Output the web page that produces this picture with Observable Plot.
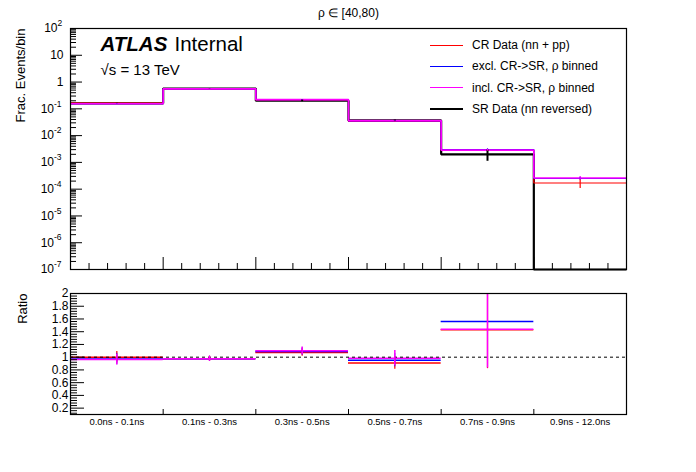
<!DOCTYPE html>
<html>
<head>
<meta charset="utf-8">
<script src="https://cdn.jsdelivr.net/npm/d3@7"></script>
<script src="https://cdn.jsdelivr.net/npm/@observablehq/plot@0.6"></script>
<style>
  body { margin: 0; background: #fff; }
  #chart { position: relative; width: 696px; height: 472px; background: #fff; overflow: hidden;
           font-family: "Liberation Sans", Arial, Helvetica, sans-serif; }
  #chart svg { position: absolute; left: 0; }
  .leg { position: absolute; left: 430px; height: 14px; line-height: 14px; font-size: 12px; white-space: nowrap; }
  .leg .sw { position: absolute; left: 0; width: 33px; top: 7px; }
  .leg .tx { position: absolute; left: 42px; top: 0; }
</style>
</head>
<body>
<div id="chart"></div>
<script>
// ---------- data ----------
const binLabels = ["0.0ns - 0.1ns", "0.1ns - 0.3ns", "0.3ns - 0.5ns", "0.5ns - 0.7ns", "0.7ns - 0.9ns", "0.9ns - 12.0ns"];

// top panel: fraction of events per bin
const srData    = [0.160, 0.57, 0.200, 0.037, 0.0020, 0];
const srErr     = [0.002, 0.005, 0.015, 0.002, 0.0009, 0];
const crData    = [0.162, 0.556, 0.215, 0.0337, 0.00286, 0.00017];
const crErr     = [0.002, 0.004, 0.003, 0.0008, 0.0002, 0.000065];
const exclPred  = [0.155, 0.556, 0.218, 0.0353, 0.00300, 0.00025];
const exclErr   = [0.002, 0.004, 0.003, 0.0008, 0.0002, 0.00003];
const inclPred  = [0.154, 0.556, 0.220, 0.0364, 0.00288, 0.00026];
const inclErr   = [0.002, 0.004, 0.003, 0.0008, 0.0002, 0.00004];

// ratio panel
const crRatio      = [1.0, 0.975, 1.075, 0.91, 1.43, null];
const crRatioErr   = [0.09, 0.04, 0.06, 0.10, 0.61, null];
const exclRatio    = [0.972, 0.975, 1.09, 0.953, 1.56, null];
const exclRatioErr = [0.09, 0.04, 0.06, 0.105, 0.66, null];
const inclRatio    = [0.962, 0.975, 1.10, 0.985, 1.44, null];
const inclRatioErr = [0.085, 0.04, 0.06, 0.12, 0.61, null];

// axis tick values
const topYTicks   = [1e-7, 1e-6, 1e-5, 1e-4, 1e-3, 1e-2, 1e-1, 1, 10, 100];
const ratioYTicks = [0.2, 0.4, 0.6, 0.8, 1, 1.2, 1.4, 1.6, 1.8, 2];

const legendItems = [
  {label: "CR Data (nn + pp)", color: "#ff0000", width: 1},
  {label: "excl. CR->SR, \u03c1 binned", color: "#0000ff", width: 1},
  {label: "incl. CR->SR, \u03c1 binned", color: "#ff00ff", width: 1},
  {label: "SR Data (nn reversed)", color: "#000000", width: 2.5}
];

// ---------- helpers ----------
const FONT = '"Liberation Sans", Arial, Helvetica, sans-serif';
const W = 696;
const nBins = binLabels.length;
const yTop = [1e-7, 1e2];
const expOf = v => Math.round(Math.log10(v));
function steps(vals) {
  return vals.flatMap((v, i) => [{x: i, y: Math.max(v, yTop[0])}, {x: i + 1, y: Math.max(v, yTop[0])}]);
}
function errs(vals, e) {
  return vals.map((v, i) => ({x: i + 0.5, lo: v - e[i], hi: v + e[i], v, e: e[i]}))
             .filter(d => d.v > 0 && d.e > 0);
}
function ratioRows(vals, e) {
  return vals.map((v, i) => ({x0: i, x1: i + 1, xc: i + 0.5, r: v, lo: v - e[i], hi: v + e[i]}))
             .filter(d => d.r != null);
}

// ---------- top panel ----------
const topH = 281, topMT = 28, topMB = 12, ML = 70, MR = 70;
const frameW = W - ML - MR, frameH = topH - topMT - topMB;

const minorX = d3.range(0, nBins * 5 + 1).map(k => k / 5).filter(v => v > 0 && v < nBins && Math.abs(v - Math.round(v)) > 1e-6);
const majorX = d3.range(1, nBins);
const minorY = [];
for (let e = -7; e < 2; e++) for (let k = 2; k <= 9; k++) minorY.push(k * Math.pow(10, e));
const majorY = topYTicks.slice(1, -1);

const plainTicks = topYTicks.filter(v => expOf(v) === 0 || expOf(v) === 1);
const posExpTicks = topYTicks.filter(v => expOf(v) > 1);
const negExpTicks = topYTicks.filter(v => expOf(v) < 0);

const series = [
  {vals: srData, err: srErr, color: "#000", w: 2.2},
  {vals: crData, err: crErr, color: "#ff0000", w: 1.2},
  {vals: exclPred, err: exclErr, color: "#0000ff", w: 1.2},
  {vals: inclPred, err: inclErr, color: "#ff00ff", w: 1.6}
];

const labelFont = 12;
const expFont = 8.5;
const topPlot = Plot.plot({
  width: W, height: topH,
  marginLeft: ML, marginRight: MR, marginTop: topMT, marginBottom: topMB,
  style: {fontFamily: FONT, fontSize: "12px", background: "transparent", color: "#000", overflow: "visible"},
  x: {domain: [0, nBins], axis: null},
  y: {type: "log", domain: yTop, axis: null},
  marks: [
    ...series.map(s => Plot.line(steps(s.vals), {x: "x", y: "y", stroke: s.color, strokeWidth: s.w, strokeLinejoin: "miter", strokeLinecap: "butt"})),
    ...series.map(s => Plot.ruleX(errs(s.vals, s.err), {x: "x", y1: "lo", y2: "hi", stroke: s.color, strokeWidth: s.color === "#000" ? 2 : 1.2})),
    Plot.tickX(minorX, {x: d => d, insetTop: frameH - 6, stroke: "#000"}),
    Plot.tickX(majorX, {x: d => d, insetTop: frameH - 12, stroke: "#000"}),
    Plot.tickY(minorY, {y: d => d, insetRight: frameW - 6, stroke: "#000"}),
    Plot.tickY(majorY, {y: d => d, insetRight: frameW - 12, stroke: "#000"}),
    // y tick labels (ROOT-style 10^n)
    Plot.text(plainTicks, {y: d => d, text: d => String(d), frameAnchor: "left", dx: -7, textAnchor: "end", lineAnchor: "middle", fontSize: labelFont}),
    Plot.text(posExpTicks, {y: d => d, text: () => "10", frameAnchor: "left", dx: -13, textAnchor: "end", lineAnchor: "middle", fontSize: labelFont}),
    Plot.text(posExpTicks, {y: d => d, text: d => String(expOf(d)), frameAnchor: "left", dx: -13, dy: -5, textAnchor: "start", lineAnchor: "middle", fontSize: expFont}),
    Plot.text(negExpTicks, {y: d => d, text: () => "10", frameAnchor: "left", dx: -16.5, textAnchor: "end", lineAnchor: "middle", fontSize: labelFont}),
    Plot.text(negExpTicks, {y: d => d, text: d => String(expOf(d)), frameAnchor: "left", dx: -16.5, dy: -5, textAnchor: "start", lineAnchor: "middle", fontSize: expFont}),
    Plot.frame({stroke: "#000", strokeWidth: 1.2}),
    Plot.text(["\u03c1 \u2208 [40,80)"], {frameAnchor: "top", dy: -15, lineAnchor: "middle", fontSize: 12}),
    Plot.text(["ATLAS"], {frameAnchor: "top-left", dx: 30, dy: 22, textAnchor: "start", lineAnchor: "bottom", fontSize: 20.5, fontWeight: "bold", fontStyle: "italic"}),
    Plot.text(["Internal"], {frameAnchor: "top-left", dx: 104, dy: 22, textAnchor: "start", lineAnchor: "bottom", fontSize: 20.5}),
    Plot.text(["\u221as = 13 TeV"], {frameAnchor: "top-left", dx: 30, dy: 46, textAnchor: "start", lineAnchor: "bottom", fontSize: 15}),
    Plot.text(["Frac. Events/bin"], {frameAnchor: "top-left", dx: -50, dy: 0, rotate: -90, textAnchor: "end", lineAnchor: "middle", fontSize: 13})
  ]
});
topPlot.style.top = "0px";

// ---------- ratio panel ----------
const botTop = 281, botH = 472 - botTop, botMT = 12, botMB = 58;
const botFrameH = botH - botMT - botMB;
const ratioMinor = d3.range(1, 50).map(k => Math.round(k * 4) / 100).filter(v => v > 0.1 && v < 2 && Math.abs(v * 5 - Math.round(v * 5)) > 1e-6);
const ratioMajor = ratioYTicks.filter(v => v < 2);

const rSeries = [
  {vals: crRatio, err: crRatioErr, color: "#ff0000", ew: 1.2},
  {vals: exclRatio, err: exclRatioErr, color: "#0000ff", ew: 0.8},
  {vals: inclRatio, err: inclRatioErr, color: "#ff00ff", ew: 1.5}
];

const botPlot = Plot.plot({
  width: W, height: botH,
  marginLeft: ML, marginRight: MR, marginTop: botMT, marginBottom: botMB,
  style: {fontFamily: FONT, fontSize: "12px", background: "transparent", color: "#000", overflow: "visible"},
  x: {domain: [0, nBins]},
  y: {domain: [0.1, 2.0]},
  marks: [
    ...rSeries.map(s => Plot.ruleY(ratioRows(s.vals, s.err), {y: "r", x1: "x0", x2: "x1", stroke: s.color, strokeWidth: 1.5})),
    Plot.ruleY([1], {stroke: "#000", strokeWidth: 1, strokeDasharray: "3,3"}),
    ...rSeries.map(s => Plot.ruleX(ratioRows(s.vals, s.err), {x: "xc", y1: "lo", y2: "hi", stroke: s.color, strokeWidth: s.ew, clip: true})),
    Plot.tickY(ratioMinor, {y: d => d, insetRight: frameW - 7, stroke: "#000"}),
    Plot.tickY(ratioMajor, {y: d => d, insetRight: frameW - 14, stroke: "#000"}),
    Plot.tickX(majorX, {x: d => d, insetTop: botFrameH - 5, stroke: "#000"}),
    Plot.axisY(ratioYTicks, {tickSize: 0, tickPadding: 2, tickFormat: d => String(d), label: null, fontSize: 12}),
    Plot.axisX(binLabels.map((_, i) => i + 0.5), {tickSize: 0, tickPadding: 4, tickFormat: d => binLabels[Math.floor(d)], label: null, fontSize: 9.5}),
    Plot.frame({stroke: "#000", strokeWidth: 1.2}),
    Plot.text(["Ratio"], {frameAnchor: "top-left", dx: -48, dy: 0, rotate: -90, textAnchor: "end", lineAnchor: "middle", fontSize: 13})
  ]
});
botPlot.style.top = botTop + "px";

const chart = document.getElementById("chart");
chart.appendChild(topPlot);
chart.appendChild(botPlot);

// ---------- legend ----------
const legY = [45, 66, 87.5, 109];
legendItems.forEach((it, i) => {
  const row = document.createElement("div");
  row.className = "leg";
  row.style.top = (legY[i] - 7) + "px";
  const sw = document.createElement("div");
  sw.className = "sw";
  sw.style.borderTop = it.width + "px solid " + it.color;
  sw.style.top = (7 - it.width / 2) + "px";
  const tx = document.createElement("div");
  tx.className = "tx";
  tx.textContent = it.label;
  row.appendChild(sw);
  row.appendChild(tx);
  chart.appendChild(row);
});
</script>
</body>
</html>
